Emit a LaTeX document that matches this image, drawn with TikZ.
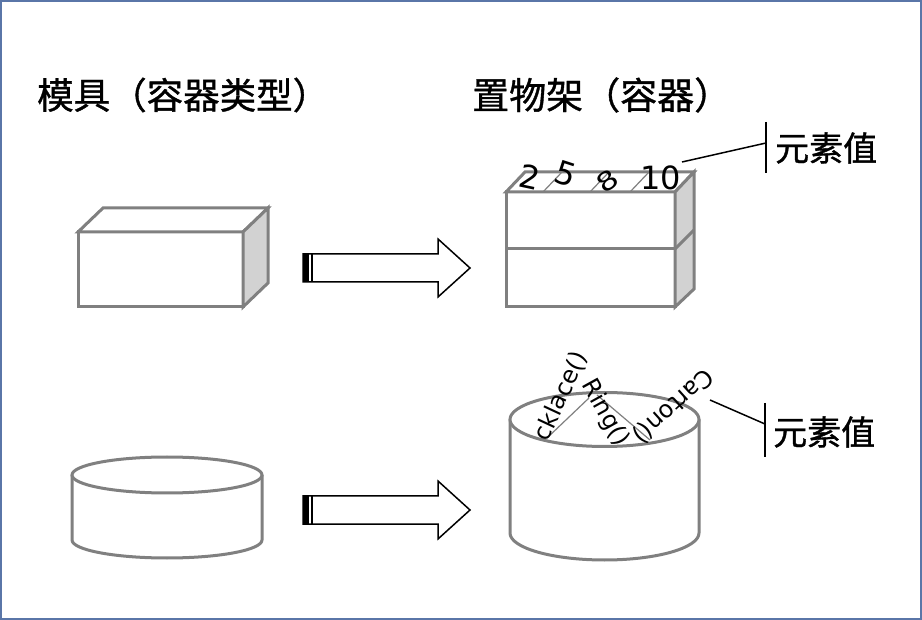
\documentclass[tikz,border=0pt]{standalone}
\usepackage{fontspec}
\setmainfont{DejaVu Sans}
\newfontfamily\cjk[FakeBold=1]{Noto Sans CJK SC}
\usetikzlibrary{positioning}

\definecolor{rim}{HTML}{5A76A8}
\tikzstyle{ware} = [draw = gray, line width = 3pt, fill = white]
\tikzstyle{side} = [ware, fill = gray!35]
\tikzstyle{sep} = [draw = gray, line width = 1.2pt]
\tikzstyle{lead} = [draw, line width = 1.5pt]
\tikzstyle{title} = [inner sep = 0pt, font = \cjk\fontsize{36.5}{42}\selectfont]
\tikzstyle{value} = [inner sep = 0pt, font = \cjk\fontsize{34}{40}\selectfont]
\tikzstyle{tag} = [inner sep = 0pt, font = \fontsize{24}{28}\selectfont]
\tikzstyle{digit} = [inner sep = 0pt, font = \fontsize{32}{36}\selectfont]
\tikzstyle{blockarrow} = [draw, line width = 1.5pt, fill = white]

\begin{document}
\begin{tikzpicture}[x = 1pt, y = -1pt]
        \useasboundingbox (0,0) rectangle (922,620);
        \draw[rim, line width = 2pt] (1,1) rectangle (921,619);

        \node[title, anchor = west] (mould) at (37,95) {模具（容器类型）};
        \node[title, anchor = west, font = \cjk\fontsize{37}{42}\selectfont] (shelf) at (472,95) {置物架（容器）};

        % mould: a single box
        \path[ware] (78,232) rectangle (243,307);
        \path[ware] (78,232) -- (103,208) -- (268,208) -- (243,232) -- cycle;
        \path[side] (243,232) -- (268,208) -- (268,283) -- (243,307) -- cycle;

        % shelf: two boxes stacked
        \path[ware] (506,192) rectangle (675,249);
        \path[ware] (506,249) rectangle (675,307);
        \path[ware] (506,192) -- (525,172) -- (694,172) -- (675,192) -- cycle;
        \path[side] (675,192) -- (694,172) -- (694,289) -- (675,307) -- cycle;
        \path[sep, line width = 3pt] (675,249) -- (694,230);
        \foreach \sx in {543, 590, 630}
            \path[sep] (\sx,192) -- ++(19,-20);

        \node[digit, rotate = -12] (n2) at (530,177) {2};
        \node[digit, rotate = -18] (n5) at (566,174) {5};
        \node[digit, rotate = 35, yscale = 0.8] (n8) at (607,181) {8};
        \node[digit] (n10) at (661,178) {10};

        \coordinate (tip1) at (682,162);
        \coordinate (bar1) at (766,143);
        \path[lead] (766,122) -- (766,173);
        \path[lead] (tip1) -- (bar1);
        \node[value, anchor = west] (val1) at (775,148) {元素值};

        % mould: cylinder
        \path[ware] (72,475) -- (72,540) arc[start angle = 180, end angle = 0, x radius = 95, y radius = 18] -- (262,475);
        \path[ware] (167,475) ellipse [x radius = 95, y radius = 18];

        % shelf: cylinder
        \path[ware] (510,419.5) -- (510,533) arc[start angle = 180, end angle = 0, x radius = 94.5, y radius = 27] -- (699,419.5);
        \path[ware] (604.5,419.5) ellipse [x radius = 94.5, y radius = 27];
        \path[sep] (547,438) -- (589,398);
        \path[sep] (597,395) -- (650,440);

        \node[tag, rotate = 65] (neck) at (561,396) {cklace()};
        \node[tag, rotate = -61] (ring) at (605,413) {Ring()};
        \node[tag, rotate = 222] (carton) at (673,406) {Carton()};

        \coordinate (tip2) at (710,400);
        \coordinate (bar2) at (765,424);
        \path[lead] (765,403) -- (765,457);
        \path[lead] (tip2) -- (bar2);
        \node[value, anchor = west] (val2) at (773,432) {元素值};

        % arrows
        \foreach \y in {268, 510} {
            \path[blockarrow] (303,\y-14) -- (438,\y-14) -- (438,\y-29) -- (470,\y)
                -- (438,\y+29) -- (438,\y+14) -- (303,\y+14) -- cycle;
            \fill (303,\y-14) rectangle (309,\y+14);
            \draw[line width = 1.5pt] (312,\y-14) -- (312,\y+14);
        }
    \end{tikzpicture}
\end{document}
